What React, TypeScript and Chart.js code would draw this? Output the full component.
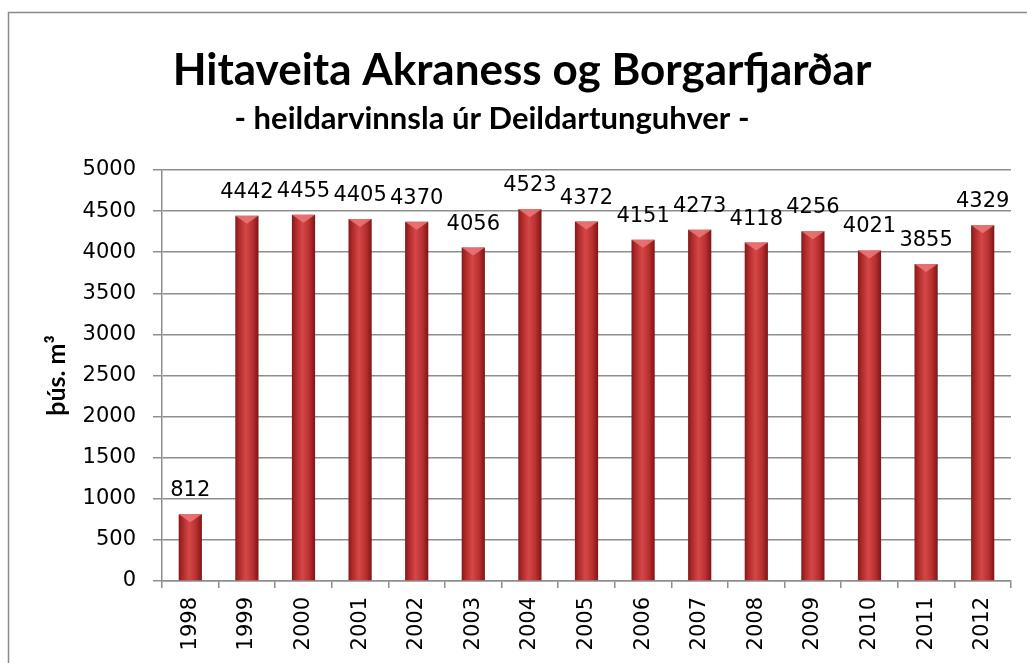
import { useEffect, useRef } from 'react';
import { Chart, registerables } from 'chart.js';

Chart.register(...registerables);

const categories = ['1998', '1999', '2000', '2001', '2002', '2003', '2004', '2005', '2006', '2007', '2008', '2009', '2010', '2011', '2012'];
const values = [812, 4442, 4455, 4405, 4370, 4056, 4523, 4372, 4151, 4273, 4118, 4256, 4021, 3855, 4329];
const yTicks = [0, 500, 1000, 1500, 2000, 2500, 3000, 3500, 4000, 4500, 5000];
const titleText = 'Hitaveita Akraness og Borgarfjarðar';
const subtitleText = '- heildarvinnsla úr Deildartunguhver -';
const yTitleText = 'þús. m³';

const BAR_PCT = 0.41;
const GRID = '#8e8e8e';
const NUM_FONT = 21;

const framePlugin = {
  id: 'frame',
  beforeDraw(chart: any) {
    const ctx = chart.ctx;
    ctx.save();
    ctx.fillStyle = '#ffffff';
    ctx.fillRect(0, 0, chart.width, chart.height);
    ctx.strokeStyle = '#8a8a8a';
    ctx.lineWidth = 1.5;
    ctx.strokeRect(8.5, 12.5, chart.width + 20, chart.height + 20);
    ctx.restore();
  },
  afterDraw(chart: any) {
    const ctx = chart.ctx;
    ctx.save();
    ctx.fillStyle = '#000000';
    ctx.textAlign = 'center';
    ctx.textBaseline = 'alphabetic';
    ctx.font = 'bold 44px Lato';
    ctx.fillText(titleText, 522, 85);
    ctx.font = 'bold 31px Lato';
    ctx.fillText(subtitleText, 492, 129);
    ctx.restore();
  },
};

const barDecorPlugin = {
  id: 'barDecor',
  afterDatasetsDraw(chart: any) {
    const ctx = chart.ctx;
    const meta = chart.getDatasetMeta(0);
    ctx.save();
    meta.data.forEach((bar: any, i: number) => {
      const { x, y, width } = bar.getProps(['x', 'y', 'width'], true);
      const l = x - width / 2;
      const r = x + width / 2;
      ctx.beginPath();
      ctx.moveTo(l, y);
      ctx.lineTo(r, y);
      ctx.lineTo(x, y + 8);
      ctx.closePath();
      ctx.fillStyle = 'rgba(236,120,120,0.85)';
      ctx.fill();
      ctx.fillStyle = '#000000';
      ctx.font = NUM_FONT + 'px "DejaVu Sans"';
      ctx.textAlign = 'center';
      ctx.textBaseline = 'alphabetic';
      ctx.fillText(String(values[i]), x, y - 18);
    });
    ctx.restore();
  },
};

function barFill(c: any) {
  const chart = c.chart;
  const xs = chart.scales && chart.scales.x;
  if (!chart.chartArea || !xs || c.dataIndex === undefined) return '#b52a2a';
  const cx = xs.getPixelForValue(c.dataIndex);
  const half = (xs.width / categories.length) * BAR_PCT / 2;
  const g = chart.ctx.createLinearGradient(cx - half, 0, cx + half, 0);
  g.addColorStop(0, '#841818');
  g.addColorStop(0.15, '#ac2828');
  g.addColorStop(0.45, '#d54747');
  g.addColorStop(0.75, '#b83030');
  g.addColorStop(1, '#7e1515');
  return g;
}

export default function App() {
  const ref = useRef<HTMLCanvasElement | null>(null);
  useEffect(() => {
    document.body.style.margin = '0';
    if (!ref.current) return;
    Chart.defaults.font.family = '"DejaVu Sans"';
    const chart = new Chart(ref.current, {
      type: 'bar',
      data: {
        labels: categories,
        datasets: [
          {
            data: values,
            backgroundColor: barFill,
            borderWidth: 0,
            categoryPercentage: 1,
            barPercentage: BAR_PCT,
          },
        ],
      },
      options: {
        responsive: false,
        animation: false,
        devicePixelRatio: 1,
        layout: { padding: { top: 170, right: 16, left: 0, bottom: 0 } },
        plugins: {
          legend: { display: false },
          tooltip: { enabled: false },
          title: { display: false },
        },
        scales: {
          x: {
            type: 'category',
            grid: { offset: true, drawOnChartArea: false, drawTicks: true, tickLength: 7, color: GRID, lineWidth: 1.5 },
            border: { display: true, color: GRID, width: 1.5 },
            ticks: { minRotation: 90, maxRotation: 90, autoSkip: false, padding: 9, color: '#000', font: { size: NUM_FONT, family: '"DejaVu Sans"' } },
            afterFit(scale: any) {
              scale.height = 82;
              scale.paddingLeft = 0;
              scale.paddingRight = 0;
            },
          },
          y: {
            min: 0,
            max: 5000,
            afterBuildTicks(scale: any) {
              scale.ticks = yTicks.map((v) => ({ value: v }));
            },
            grid: { color: GRID, lineWidth: 1.5, tickLength: 9, drawTicks: true },
            border: { display: true, color: GRID, width: 1.5 },
            ticks: {
              padding: 17,
              color: '#000',
              font: { size: NUM_FONT, family: '"DejaVu Sans"' },
              callback: (v: any) => String(v),
            },
            title: {
              display: true,
              text: yTitleText,
              color: '#000',
              font: { size: 25, weight: 'bold', family: 'Lato' },
              padding: { top: 42, bottom: 0 },
            },
            afterFit(scale: any) {
              scale.width = 162;
              scale.paddingTop = 0;
              scale.paddingBottom = 0;
            },
          },
        },
      },
      plugins: [framePlugin, barDecorPlugin],
    } as any);
    return () => chart.destroy();
  }, []);
  return (
    <div style={{ position: 'absolute', left: 0, top: 0, width: 1027, height: 663 }}>
      <canvas ref={ref} width={1027} height={663} />
    </div>
  );
}
